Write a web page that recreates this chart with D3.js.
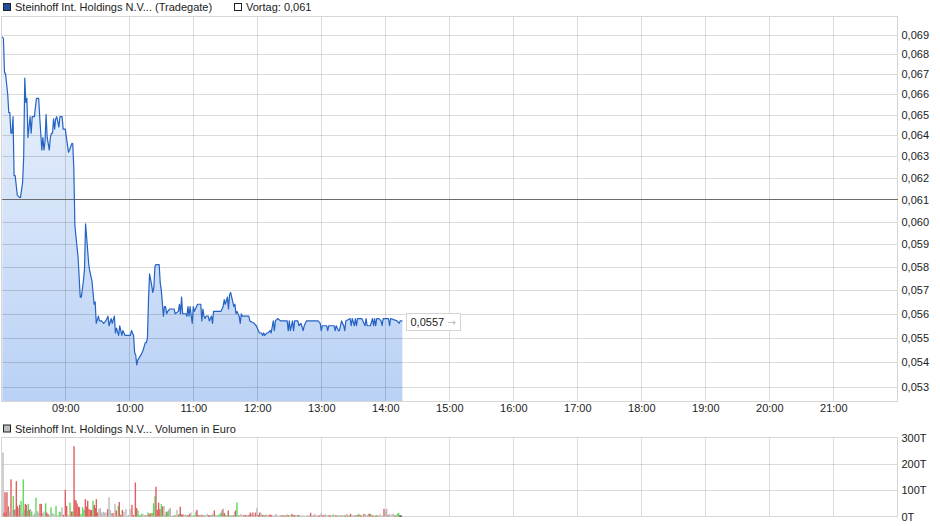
<!DOCTYPE html>
<html>
<head>
<meta charset="utf-8">
<script src="https://cdn.jsdelivr.net/npm/d3@7"></script>
<style>
  body { margin: 0; background: #fff; }
  svg text { font-family: "Liberation Sans", Arial, sans-serif; font-size: 11px; fill: #222; }
</style>
</head>
<body>
<div id="chart"></div>
<script>
'use strict';

// price series: minutes after 08:00 and price (EUR)
var priceMin = [1,2,3,4,6,7,8,9,10,11,12,13,15,17,18,20,21,22,23,24,25,26,27,28,29,31,33,35,36,38,39,40,41,42,43,45,46,47,48,49,50,51,52,54,55,57,58,60,61,63,64,66,67,68,69,72,74,75,77,78,79,81,82,83,85,87,88,89,91,92,94,96,98,100,101,103,104,106,107,108,110,111,113,114,116,119,121,122,124,125,126,127,
  128,131,133,135,136,137,138,139,141,142,143,144,145,148,149,150,152,153,154,155,156,158,162,163,166,167,168,169,170,173,174,175,176,177,179,180,181,182,184,187,188,189,190,191,192,194,195,197,198,199,203,206,208,209,210,212,213,214,215,217,218,219,220,221,223,224,225,226,229,232,233,237,239,241,242,244,245,246,247,249,250,252,253,255,256,257,259,262,266,268,269,270,271,273,274,275,278,279,281,283,284,286,291,293,297,299,300,301,305,306,307,312,313,314,316,317,318,319,321,322,323,327,328,329,331,332,333,334,338,339,341,342,343,346,348,349,350,351,352,354,356,357,358,363,364,365,371,373,374,376];
var prices = [.0689,.0688,.0671,.0670,.0660,.0651,.0651,.0641,.0641,.0649,.0621,.0621,.0612,.0611,.0611,.0618,.0630,.0668,.0656,.0658,.0639,.0644,.0649,.0641,.0649,.0649,.0658,.0658,.0649,.0633,.0639,.0633,.0637,.0650,.0639,.0633,.0639,.0641,.0641,.0648,.0643,.0648,.0649,.0644,.0649,.0649,.0643,.0643,.0639,.0632,.0633,.0636,.0636,.0624,.0598,.0584,.0567,.0567,.0574,.0579,.0599,.0587,.0581,.0578,.0574,.0564,.0565,.0556,.0559,.0557,.0557,.0556,.0557,.0559,.0555,.0558,.0556,.0559,.0552,.0554,.0551,.0555,.0551,.0553,.0551,.0551,.0551,.0553,.0551,.0544,.0543,.0539,
  .0541,.0543,.0545,.0548,.0548,.0550,.0566,.0577,.0572,.0569,.0571,.0580,.0581,.0581,.0573,.0570,.0559,.0563,.0563,.0560,.0561,.0562,.0562,.0560,.0561,.0564,.0560,.0567,.0560,.0560,.0559,.0563,.0559,.0563,.0556,.0563,.0561,.0562,.0564,.0564,.0557,.0562,.0559,.0558,.0559,.0559,.0557,.0559,.0556,.0561,.0561,.0561,.0563,.0566,.0564,.0567,.0562,.0568,.0569,.0565,.0563,.0564,.0560,.0561,.0559,.0556,.0560,.0559,.0559,.0559,.0557,.0556,.0555,.0553,.0552,.0552,.0551,.0552,.0551,.0552,.0552,.0553,.0552,.0557,.0553,.0557,.0558,.0557,.0557,.0557,.0553,.0557,.0553,.0557,.0553,.0557,.0557,.0555,.0556,.0553,.0555,.0557,.0557,.0557,.0557,.0556,.0553,.0555,.0555,.0553,.0555,.0555,.0553,.0555,.0553,.0553,.0555,.0557,.0555,.0553,.0557,.0558,.0555,.0558,.0555,.0558,.0555,.0558,.0558,.0557,.0555,.0558,.0555,.0555,.0558,.0555,.0558,.0555,.0558,.0558,.0557,.0555,.0558,.0558,.0555,.0558,.0557,.0556,.0557,.0557];

// volume series: minutes after 08:00, volume in thousand EUR, side (r = down, g = up, n = unchanged)
var volMin = [1.6,2.5,3.5,4.4,5.3,6.6,7.5,9.1,10.0,11.3,12.2,13.2,14.1,15.0,16.3,17.2,18.5,19.4,20.6,21.6,22.5,23.5,24.4,25.3,26.3,27.5,28.5,30.0,31.3,32.5,33.8,34.7,36.3,37.5,38.8,40.0,41.6,42.5,43.8,45.0,46.6,47.8,49.4,51.3,52.5,54.4,55.7,56.9,58.2,60.0,61.3,62.5,64.4,65.7,66.9,68.2,69.1,70.0,71.0,72.2,73.2,74.7,76.3,77.5,78.8,80.0,81.0,82.2,83.5,84.7,86.0,87.2,88.2,89.1,90.3,91.6,92.8,94.1,95.7,96.6,98.1,99.7,101.0,102.2,103.2,104.7,106.6,107.8,109.7,110.6,111.9,113.5,115.0,116.9,119.1,120.7,122.5,123.8,125.7,126.9,128.2,
  129.1,130.3,131.6,132.8,134.1,135.6,137.5,138.7,140.3,141.6,142.8,144.1,145.0,146.2,147.5,148.7,150.0,151.2,152.5,153.4,154.7,155.6,156.6,157.5,158.4,159.7,160.9,162.2,163.4,164.7,165.9,166.9,167.8,169.1,170.3,171.6,172.8,174.1,175.3,176.6,177.8,179.1,180.9,182.5,183.4,184.4,186.2,187.5,188.7,190.3,191.6,193.1,194.4,195.6,196.9,198.1,199.7,200.9,202.2,203.4,205.0,205.9,207.2,208.1,209.1,210.3,211.6,212.8,214.1,215.9,217.5,218.7,219.7,220.9,222.2,223.4,224.7,225.9,227.5,229.1,230.6,232.2,233.4,234.7,235.9,237.2,238.4,239.7,240.9,242.2,243.4,244.7,245.9,247.2,248.4,249.7,250.9,252.2,253.4,254.7,
  256.3,257.5,258.8,260.0,261.3,262.5,263.8,265.0,266.3,267.5,268.8,270.0,271.3,272.5,273.8,275.0,276.3,277.5,278.8,280.0,281.3,282.5,283.8,285.0,286.3,287.5,288.8,290.0,291.3,292.5,293.8,295.0,296.3,297.5,298.8,300.0,301.3,302.5,303.8,305.0,306.3,307.5,308.8,310.0,311.3,312.5,313.8,315.0,316.3,317.5,318.8,320.0,321.3,322.5,323.8,325.0,326.3,327.5,328.8,330.0,331.3,332.5,333.8,335.0,336.3,337.5,338.8,340.0,341.3,342.5,343.8,345.0,346.3,347.5,348.8,350.0,351.3,352.5,353.8,355.0,356.3,357.5,358.8,360.0,361.3,362.5,363.8,365.0,366.3,367.5,368.8,370.0,371.3,372.5,373.8,375.0];
var volT = [243,15,92,15,92,38,19,141,25,78,25,28,134,40,32,44,59,15,141,25,48,44,23,48,25,28,19,6,13,71,21,15,48,48,13,19,50,15,10,6,35,13,10,40,5,18,18,35,6,101,40,6,53,19,19,267,63,61,50,38,35,10,35,25,66,38,60,28,25,25,60,44,32,66,15,28,32,15,18,15,15,28,73,25,13,13,48,23,40,55,6,25,18,28,6,28,44,6,129,32,23,
  6,5,10,10,5,5,15,10,13,13,50,78,113,25,53,28,47,38,40,5,18,18,23,28,33,3,3,6,5,25,6,10,37,8,8,5,8,5,5,10,15,3,5,18,25,6,5,8,5,5,5,10,5,5,5,10,23,5,5,6,10,15,25,30,13,6,5,23,5,5,5,18,23,53,5,5,10,5,6,6,5,6,15,10,15,5,15,33,6,15,13,6,6,5,8,5,5,8,5,4,
  5,10,4,3,5,4,5,5,3,8,6,4,5,10,5,5,4,6,6,4,3,4,3,3,4,5,4,14,4,3,10,3,4,4,5,14,4,5,9,4,5,5,4,5,8,3,6,4,4,5,4,4,5,4,10,4,5,10,4,4,4,5,5,10,6,4,3,10,8,5,8,11,10,4,4,3,5,5,4,8,4,3,29,18,29,5,10,4,8,10,4,4,10,14,4,3];
var volSide = ('nrrrrrnrngrnrrnrgngnrrggrngnngnnrrnngrrngnngngnnrrrngrgrrrrrrgggrrrrrrgrrrrnnnnnnrnnnrnrgrrrnnnnrrrr' +
  'ggggnnrgrrgggrrrrgrngrggnnnrngnrgrrrnngrrngggrrrnrgnnrrgnrnngggrnrgnrggrnrggnnnrrnrrnrnrnrrnrgrnnr' +
  'rrnnnnnnrgrrnrgnrrrgnrgnnnnnnnrnrnrnrrnrrnnnrrngnrngnrngrnrgrnnrgrgrrnrnnnrgrrnrgnnnnrnnrnnnnrrgg').split('');

var dayStart = new Date(2000, 0, 1, 8, 0);
var dayEnd = new Date(2000, 0, 1, 22, 0);
var previousClose = 0.061;
var lastPrice = 0.0557;
var priceTicks = [0.053,0.054,0.055,0.056,0.057,0.058,0.059,0.060,0.061,0.062,0.063,0.064,0.065,0.066,0.067,0.068,0.069];
var volTicks = [0, 100, 200, 300];

var instrument = 'Steinhoff Int. Holdings N.V...';
var venue = '(Tradegate)';
var volumeTitle = 'Volumen in Euro';


var width = 940, height = 526;

var plot = { left: 1.5, right: 897.5, top: 16.5, bottom: 401.5 };
var volPlot = { top: 437.5, bottom: 516.5 };

function minToDate(m) { return new Date(dayStart.getTime() + m * 60000); }

var commaFmt = function(d, digits) { return d.toFixed(digits).replace('.', ','); };

var svg = d3.select('#chart').append('svg')
  .attr('width', width)
  .attr('height', height)
  .attr('viewBox', '0 0 ' + width + ' ' + height);

var x = d3.scaleTime()
  .domain([dayStart, dayEnd])
  .range([1.3, 897.3]);

var y = d3.scaleLog()
  .domain([0.05246, 0.06998])
  .range([plot.bottom - 0.5, plot.top - 0.5]);

var yv = d3.scaleLinear()
  .domain([0, 300])
  .range([volPlot.bottom, volPlot.top]);

var hours = x.ticks(d3.timeHour.every(1)).filter(function(d) {
  return d > dayStart && d < dayEnd;
});

var priceData = priceMin.map(function(m, i) { return { t: minToDate(m), v: prices[i] }; });

var defs = svg.append('defs');
var grad = defs.append('linearGradient')
  .attr('id', 'areaFill')
  .attr('gradientUnits', 'userSpaceOnUse')
  .attr('x1', 0).attr('x2', 0)
  .attr('y1', plot.top).attr('y2', plot.bottom);
grad.append('stop').attr('offset', '0%').attr('stop-color', '#f1f6fd');
grad.append('stop').attr('offset', '100%').attr('stop-color', '#b9d1f5');

//
// price panel
//
var area = d3.area()
  .x(function(d) { return x(d.t); })
  .y0(plot.bottom)
  .y1(function(d) { return y(d.v); });

svg.append('path')
  .datum(priceData)
  .attr('d', area)
  .attr('fill', 'url(#areaFill)');

var grid = svg.append('g')
  .attr('stroke', '#000')
  .attr('stroke-opacity', 0.14)
  .attr('shape-rendering', 'crispEdges');

grid.selectAll('.hgrid')
  .data(priceTicks.filter(function(d) { return d !== previousClose; }))
  .enter().append('line')
    .attr('x1', plot.left).attr('x2', plot.right)
    .attr('y1', function(d) { return Math.round(y(d)) + 0.5; })
    .attr('y2', function(d) { return Math.round(y(d)) + 0.5; });

grid.selectAll('.vgrid')
  .data(hours)
  .enter().append('line')
    .attr('x1', function(d) { return Math.round(x(d)) + 0.5; })
    .attr('x2', function(d) { return Math.round(x(d)) + 0.5; })
    .attr('y1', plot.top).attr('y2', plot.bottom);

svg.append('rect')
  .attr('x', plot.left).attr('y', plot.top)
  .attr('width', plot.right - plot.left).attr('height', plot.bottom - plot.top)
  .attr('fill', 'none')
  .attr('stroke', '#d6d6d6')
  .attr('shape-rendering', 'crispEdges');

// previous close
svg.append('line')
  .attr('x1', plot.left).attr('x2', plot.right)
  .attr('y1', Math.round(y(previousClose)) + 0.5)
  .attr('y2', Math.round(y(previousClose)) + 0.5)
  .attr('stroke', '#6b6b6b')
  .attr('shape-rendering', 'crispEdges');

var line = d3.line()
  .curve(d3.curveLinear)
  .x(function(d) { return x(d.t); })
  .y(function(d) { return y(d.v); });

svg.append('path')
  .datum(priceData)
  .attr('d', line)
  .attr('fill', 'none')
  .attr('stroke', '#2463c4')
  .attr('stroke-width', 1.2)
  .attr('stroke-linejoin', 'round');

// right axis
var yAxis = d3.axisRight(y)
  .tickValues(priceTicks)
  .tickSize(0)
  .tickPadding(4)
  .tickFormat(function(d) { return commaFmt(d, 3); });

svg.append('g')
  .attr('transform', 'translate(' + plot.right + ',0)')
  .call(yAxis)
  .call(function(g) { g.select('.domain').remove(); })
  .selectAll('text')
    .attr('font-size', 11)
    .attr('font-family', '"Liberation Sans", Arial, sans-serif')
    .attr('fill', '#222');

// time axis
var xAxis = d3.axisBottom(x)
  .tickValues(hours)
  .tickSize(0)
  .tickPadding(3)
  .tickFormat(d3.timeFormat('%H:%M'));

svg.append('g')
  .attr('transform', 'translate(0,' + plot.bottom + ')')
  .call(xAxis)
  .call(function(g) { g.select('.domain').remove(); })
  .selectAll('text')
    .attr('font-size', 11)
    .attr('font-family', '"Liberation Sans", Arial, sans-serif')
    .attr('fill', '#222');

// last price tag
var lastT = priceData[priceData.length - 1].t;
var tag = svg.append('g')
  .attr('transform', 'translate(' + (Math.round(x(lastT)) + 4.5) + ',' + (Math.round(y(lastPrice)) - 7.5) + ')');
tag.append('rect')
  .attr('width', 54).attr('height', 17)
  .attr('fill', '#fff')
  .attr('stroke', '#d4d4d4');
tag.append('text')
  .attr('x', 4).attr('y', 12.5)
  .text(commaFmt(lastPrice, 4));
tag.append('text')
  .attr('x', 41).attr('y', 12.5)
  .style('fill', '#b8b8b8')
  .style('font-family', '"DejaVu Sans", sans-serif')
  .style('font-size', '10px')
  .text('\u2192');

// legend
function legendItem(px, py, fill, label) {
  svg.append('rect')
    .attr('x', px + 0.5).attr('y', py + 0.5)
    .attr('width', 7).attr('height', 7)
    .attr('fill', fill)
    .attr('stroke', '#222');
  svg.append('text')
    .attr('x', px + 12).attr('y', py + 8)
    .text(label);
}
legendItem(3, 3, '#1f4fa3', instrument + ' ' + venue);
legendItem(234, 3, '#fff', 'Vortag: ' + commaFmt(previousClose, 3));

//
// volume panel
//
legendItem(3, 424.5, '#bdbdbd', instrument + ' ' + volumeTitle);

var vgrid = svg.append('g')
  .attr('stroke', '#000')
  .attr('stroke-opacity', 0.14)
  .attr('shape-rendering', 'crispEdges');

vgrid.selectAll('line.h')
  .data(volTicks.slice(1, -1))
  .enter().append('line')
    .attr('x1', plot.left).attr('x2', plot.right)
    .attr('y1', function(d) { return Math.round(yv(d)) + 0.5; })
    .attr('y2', function(d) { return Math.round(yv(d)) + 0.5; });

vgrid.selectAll('line.v')
  .data(hours)
  .enter().append('line')
    .attr('x1', function(d) { return Math.round(x(d)) + 0.5; })
    .attr('x2', function(d) { return Math.round(x(d)) + 0.5; })
    .attr('y1', volPlot.top).attr('y2', volPlot.bottom);

svg.append('rect')
  .attr('x', plot.left).attr('y', volPlot.top)
  .attr('width', plot.right - plot.left).attr('height', volPlot.bottom - volPlot.top)
  .attr('fill', 'none')
  .attr('stroke', '#d6d6d6')
  .attr('shape-rendering', 'crispEdges');

var sideColor = { r: '#de5f5f', g: '#5fd95f', n: '#bababa' };

svg.append('g')
  .selectAll('rect')
  .data(volMin.map(function(m, i) { return { t: minToDate(m), v: volT[i], s: volSide[i] }; }))
  .enter().append('rect')
    .attr('x', function(d) { return x(d.t) - 0.7; })
    .attr('width', 1.4)
    .attr('y', function(d) { return yv(d.v); })
    .attr('height', function(d) { return yv(0) - yv(d.v); })
    .attr('fill', function(d) { return sideColor[d.s]; });

var vAxis = d3.axisRight(yv)
  .tickValues(volTicks)
  .tickSize(0)
  .tickPadding(4)
  .tickFormat(function(d) { return d + 'T'; });

svg.append('g')
  .attr('transform', 'translate(' + plot.right + ',0)')
  .call(vAxis)
  .call(function(g) { g.select('.domain').remove(); })
  .selectAll('text')
    .attr('font-size', 11)
    .attr('font-family', '"Liberation Sans", Arial, sans-serif')
    .attr('fill', '#222');

</script>
</body>
</html>
